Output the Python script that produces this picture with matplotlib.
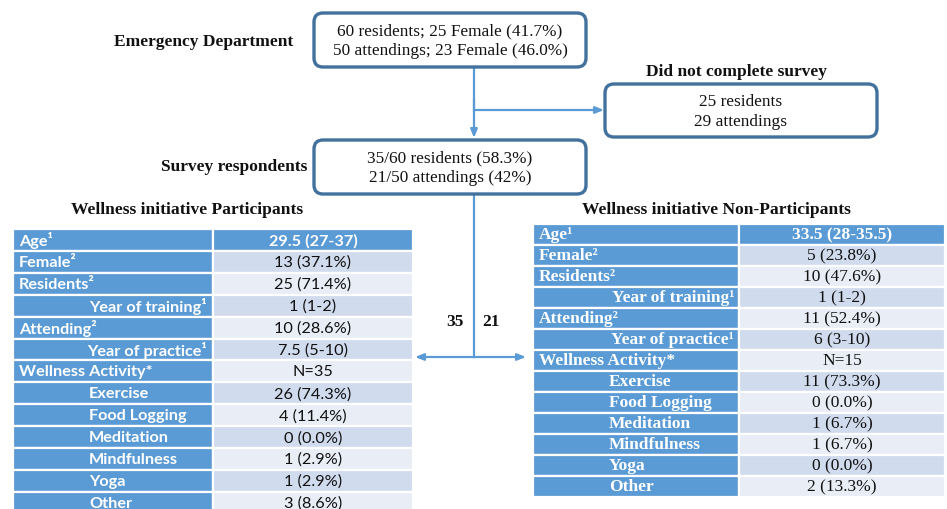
import matplotlib
matplotlib.use("Agg")
import matplotlib.pyplot as plt
from matplotlib.patches import FancyBboxPatch, Rectangle

# ---------------- data ----------------
ed_lines = ["60 residents; 25 Female (41.7%)", "50 attendings; 23 Female (46.0%)"]
dnc_lines = ["25 residents", "29 attendings"]
resp_lines = ["35/60 residents (58.3%)", "21/50 attendings (42%)"]
n_participants = "35"
n_nonparticipants = "21"

row_labels = ["Age\u00b9", "Female\u00b2", "Residents\u00b2", "Year of training\u00b9",
              "Attending\u00b2", "Year of practice\u00b9", "Wellness Activity*",
              "Exercise", "Food Logging", "Meditation", "Mindfulness", "Yoga", "Other"]
row_style = ["left", "left", "left", "right", "left", "right", "left",
             "indent", "indent", "indent", "indent", "indent", "indent"]
part_values = ["29.5 (27-37)", "13 (37.1%)", "25 (71.4%)", "1 (1-2)", "10 (28.6%)",
               "7.5 (5-10)", "N=35", "26 (74.3%)", "4 (11.4%)", "0 (0.0%)",
               "1 (2.9%)", "1 (2.9%)", "3 (8.6%)"]
nonpart_values = ["33.5 (28-35.5)", "5 (23.8%)", "10 (47.6%)", "1 (1-2)", "11 (52.4%)",
                  "6 (3-10)", "N=15", "11 (73.3%)", "0 (0.0%)", "1 (6.7%)",
                  "1 (6.7%)", "0 (0.0%)", "2 (13.3%)"]

# ---------------- style ----------------
BOX_EDGE = "#41719C"
ARROW = "#5B9BD5"
DARK = "#D0DBEE"
LIGHT = "#E9EDF6"
SERIF = "Liberation Serif"
SANS = "Lato"

fig = plt.figure(figsize=(9.47, 5.10), dpi=100)
ax = fig.add_axes([0, 0, 1, 1])
ax.set_xlim(0, 947)
ax.set_ylim(510, 0)
ax.axis("off")


def rbox(x0, y0, x1, y1, lines, fs=12.4):
    p = FancyBboxPatch((x0, y0), x1 - x0, y1 - y0,
                       boxstyle="round,pad=0,rounding_size=9",
                       fc="white", ec=BOX_EDGE, lw=2.4, zorder=3)
    ax.add_patch(p)
    cy = (y0 + y1) / 2
    n = len(lines)
    gap = 20
    for i, t in enumerate(lines):
        y = cy + (i - (n - 1) / 2) * gap
        ax.text((x0 + x1) / 2, y, t, ha="center", va="center",
                family=SERIF, fontsize=fs, color="#111111", zorder=4)


def arrow(x0, y0, x1, y1):
    ax.annotate("", xy=(x1, y1), xytext=(x0, y0),
                arrowprops=dict(arrowstyle="-|>,head_length=0.5,head_width=0.2",
                                color=ARROW, lw=1.6, shrinkA=0, shrinkB=0),
                zorder=2)


# flow boxes
rbox(314, 14, 586, 68, ed_lines)
rbox(605, 85, 877, 138, dnc_lines)
rbox(314, 141, 586, 195, resp_lines)

TFS = 12.5
ax.text(293, 42, "Emergency Department", ha="right", va="center",
        family=SERIF, fontsize=TFS, fontweight="bold", color="#111111")
ax.text(737, 72, "Did not complete survey", ha="center", va="center",
        family=SERIF, fontsize=TFS, fontweight="bold", color="#111111")
ax.text(307, 167, "Survey respondents", ha="right", va="center",
        family=SERIF, fontsize=TFS, fontweight="bold", color="#111111")

# arrows
ax.plot([474, 474], [68, 111], color=ARROW, lw=1.6, zorder=2)
arrow(474, 100, 474, 139)
arrow(474, 111, 604, 111)
ax.plot([474, 474], [195, 358], color=ARROW, lw=1.6, zorder=2)
arrow(474, 358, 415, 358)
arrow(474, 358, 526, 358)
ax.text(455, 322, n_participants, ha="center", va="center", family=SERIF,
        fontsize=TFS, fontweight="bold", color="#111111")
ax.text(491, 322, n_nonparticipants, ha="center", va="center", family=SERIF,
        fontsize=TFS, fontweight="bold", color="#111111")


def table(x0, xm, x1, top, pitch, values, family, title, title_x, fs,
          right_pad, indent_x):
    ax.text(title_x, 210, title, ha="center", va="center", family=SERIF,
            fontsize=12.6, fontweight="bold", color="#111111")
    for i, (lab, st, val) in enumerate(zip(row_labels, row_style, values)):
        y = top + i * pitch
        ax.add_patch(Rectangle((x0, y), xm - x0, pitch, fc="#5B9BD5",
                               ec="white", lw=1.6, zorder=2))
        if i == 0:
            vc = "#5B9BD5"
        else:
            vc = DARK if i % 2 == 1 else LIGHT
        ax.add_patch(Rectangle((xm, y), x1 - xm, pitch, fc=vc,
                               ec="white", lw=1.6, zorder=2))
        cy = y + pitch / 2
        if st == "left":
            ax.text(x0 + 6, cy, lab, ha="left", va="center", family=family,
                    fontsize=fs, fontweight="bold", color="white", zorder=3)
        elif st == "right":
            ax.text(xm - right_pad, cy, lab, ha="right", va="center", family=family,
                    fontsize=fs, fontweight="bold", color="white", zorder=3)
        else:
            ax.text(indent_x, cy, lab, ha="left", va="center", family=family,
                    fontsize=fs, fontweight="bold", color="white", zorder=3)
        ax.text((xm + x1) / 2, cy, val, ha="center", va="center", family=family,
                fontsize=fs, fontweight="bold" if i == 0 else "normal",
                color="white" if i == 0 else "#111111", zorder=3)


table(13, 213, 413, 230, 21.9, part_values, SANS,
      "Wellness initiative Participants", 187, 11.7, 6, 89)
table(533, 739, 945, 225, 21.0, nonpart_values, SERIF,
      "Wellness initiative Non-Participants", 716, 12.5, 5, 609)

fig.savefig("out.png", dpi=100)
